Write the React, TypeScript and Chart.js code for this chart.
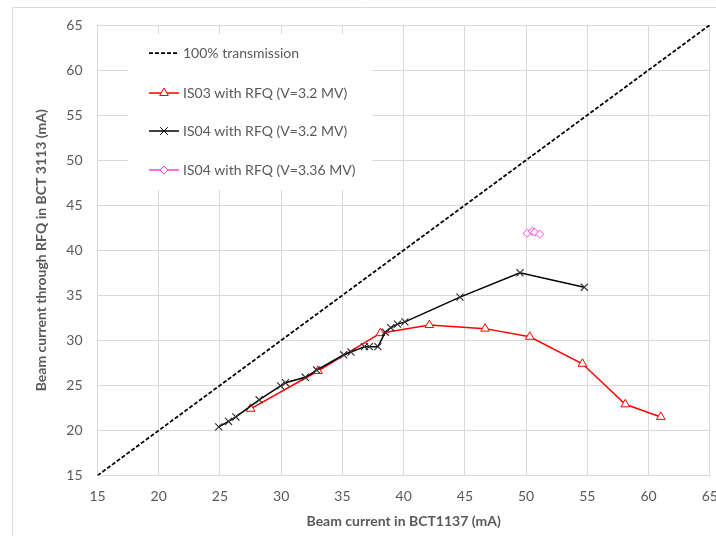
import React, { useEffect, useRef } from "react";
import { Chart, registerables } from "chart.js";

Chart.register(...registerables);

const diagX = [15, 65];
const diagY = [15, 65];
const is03X = [27.5, 33.0, 38.1, 42.1, 46.65, 50.3, 54.6, 58.1, 61.0];
const is03Y = [22.4, 26.6, 30.8, 31.7, 31.3, 30.4, 27.4, 22.9, 21.5];
const is04X = [24.9, 25.7, 26.3, 28.2, 29.95, 30.35, 31.97, 32.9, 35.1, 35.7, 36.8, 37.2, 37.9, 38.5, 38.95, 39.5, 40.1, 44.6, 49.5, 54.75];
const is04Y = [20.4, 21.0, 21.5, 23.4, 24.95, 25.3, 25.9, 26.7, 28.4, 28.7, 29.3, 29.3, 29.3, 30.9, 31.4, 31.8, 32.05, 34.8, 37.5, 35.9];
const is04bX = [50.1, 50.5, 50.7, 51.1];
const is04bY = [41.9, 42.1, 42.0, 41.8];

const legendLabels = [
  "100% transmission",
  "IS03 with RFQ (V=3.2 MV)",
  "IS04 with RFQ (V=3.2 MV)",
  "IS04 with RFQ (V=3.36 MV)",
];
const xTitle = "Beam current in BCT1137 (mA)";
const yTitle = "Beam current through RFQ in BCT 3113 (mA)";
const axisMin = 15;
const axisMax = 65;
const axisStep = 5;

const FONT = "Lato, 'Open Sans', sans-serif";
const TEXT = "#595959";
const GRID = "#d9d9d9";
const RED = "#ff0000";
const BLACK = "#000000";
const MAGENTA = "#ff3fd2";
const DASH = [4, 2];

const zip = (xs: number[], ys: number[]) => xs.map((x, i) => ({ x, y: ys[i] }));

function drawMarker(ctx: CanvasRenderingContext2D, kind: string, x: number, y: number, color: string) {
  ctx.save();
  ctx.strokeStyle = color;
  ctx.lineWidth = 1;
  ctx.fillStyle = "#ffffff";
  ctx.beginPath();
  if (kind === "triangle") {
    const r = 5;
    ctx.moveTo(x, y - r);
    ctx.lineTo(x + r * 0.866, y + r * 0.5);
    ctx.lineTo(x - r * 0.866, y + r * 0.5);
    ctx.closePath();
    ctx.fill();
    ctx.stroke();
  } else if (kind === "crossRot") {
    const r = 3.8;
    ctx.moveTo(x - r, y - r);
    ctx.lineTo(x + r, y + r);
    ctx.moveTo(x + r, y - r);
    ctx.lineTo(x - r, y + r);
    ctx.stroke();
  } else if (kind === "rectRot") {
    const r = 4;
    ctx.moveTo(x, y - r);
    ctx.lineTo(x + r, y);
    ctx.lineTo(x, y + r);
    ctx.lineTo(x - r, y);
    ctx.closePath();
    ctx.fill();
    ctx.stroke();
  }
  ctx.restore();
}

const framePlugin = {
  id: "frame",
  beforeDraw(chart: any) {
    const ctx = chart.ctx;
    ctx.save();
    ctx.fillStyle = "#ffffff";
    ctx.fillRect(0, 0, chart.width, chart.height);
    ctx.strokeStyle = GRID;
    ctx.lineWidth = 1;
    ctx.beginPath();
    ctx.moveTo(12.5, chart.height);
    ctx.lineTo(12.5, 7.5);
    ctx.lineTo(chart.width, 7.5);
    ctx.stroke();
    ctx.restore();
  },
};

const legendPlugin = {
  id: "insideLegend",
  beforeDatasetsDraw(chart: any) {
    const ctx = chart.ctx;
    ctx.save();
    ctx.fillStyle = "#ffffff";
    ctx.fillRect(128, 34, 244, 156);
    ctx.restore();
  },
  afterDatasetsDraw(chart: any) {
    const ctx = chart.ctx;
    const rows = [53, 93, 131, 170];
    const styles = [
      { color: BLACK, dash: DASH, marker: "", width: 1.75 },
      { color: RED, dash: [], marker: "triangle", width: 1.5 },
      { color: BLACK, dash: [], marker: "crossRot", width: 1.5 },
      { color: MAGENTA, dash: [], marker: "rectRot", width: 1.5 },
    ];
    ctx.save();
    rows.forEach((y, i) => {
      const s = styles[i];
      ctx.save();
      ctx.strokeStyle = s.color;
      ctx.lineWidth = s.width;
      ctx.setLineDash(s.dash);
      ctx.beginPath();
      ctx.moveTo(149, y);
      ctx.lineTo(179, y);
      ctx.stroke();
      ctx.restore();
      if (s.marker) drawMarker(ctx, s.marker, 164, y, s.color);
      ctx.fillStyle = TEXT;
      ctx.font = `14px ${FONT}`;
      ctx.textBaseline = "middle";
      ctx.textAlign = "left";
      ctx.fillText(legendLabels[i], 183, y);
    });
    ctx.restore();
  },
};

export default function App() {
  const ref = useRef<HTMLCanvasElement | null>(null);
  useEffect(() => {
    if (!ref.current) return;
    const chart = new Chart(ref.current, {
      type: "scatter",
      data: {
        datasets: [
          {
            label: legendLabels[0],
            data: zip(diagX, diagY),
            showLine: true,
            borderColor: BLACK,
            borderWidth: 1.75,
            borderDash: DASH,
            pointRadius: 0,
            order: 4,
          },
          {
            label: legendLabels[1],
            data: zip(is03X, is03Y),
            showLine: true,
            borderColor: RED,
            borderWidth: 1.5,
            pointStyle: "triangle",
            pointRadius: 5,
            pointBorderColor: RED,
            pointBackgroundColor: "#ffffff",
            pointBorderWidth: 1,
            order: 2,
          },
          {
            label: legendLabels[2],
            data: zip(is04X, is04Y),
            showLine: true,
            borderColor: BLACK,
            borderWidth: 1.5,
            pointStyle: "crossRot",
            pointRadius: 5,
            pointBorderColor: "#333333",
            pointBorderWidth: 1.2,
            order: 1,
          },
          {
            label: legendLabels[3],
            data: zip(is04bX, is04bY),
            showLine: false,
            pointStyle: "rectRot",
            pointRadius: 4,
            pointBorderColor: MAGENTA,
            pointBackgroundColor: "#ffffff",
            pointBorderWidth: 1,
            order: 0,
          },
        ],
      },
      options: {
        animation: false,
        responsive: false,
        maintainAspectRatio: false,
        layout: { padding: { left: 0, top: 25, right: 2, bottom: 0 } },
        plugins: {
          legend: { display: false },
          tooltip: { enabled: false },
        },
        scales: {
          x: {
            type: "linear",
            min: axisMin,
            max: axisMax,
            ticks: {
              stepSize: axisStep,
              color: TEXT,
              font: { family: FONT, size: 14 },
              padding: 13,
            },
            grid: { color: GRID, drawTicks: false },
            border: { color: GRID },
            title: {
              display: true,
              text: xTitle,
              color: TEXT,
              font: { family: FONT, size: 14, weight: "bold" },
              padding: { top: 0, bottom: 6 },
            },
            afterFit(scale: any) {
              scale.height = 60.5;
              scale.paddingLeft = 0;
              scale.paddingRight = 0;
            },
          },
          y: {
            type: "linear",
            min: axisMin,
            max: axisMax,
            ticks: {
              stepSize: axisStep,
              color: TEXT,
              font: { family: FONT, size: 14 },
              padding: 15,
            },
            grid: { color: GRID, drawTicks: false },
            border: { color: GRID },
            title: {
              display: true,
              text: yTitle,
              color: TEXT,
              font: { family: FONT, size: 14, weight: "bold" },
              padding: { top: 33, bottom: 0 },
            },
            afterFit(scale: any) {
              scale.width = 97.5;
              scale.paddingTop = 0;
              scale.paddingBottom = 0;
            },
          },
        },
      },
      plugins: [framePlugin, legendPlugin],
    });
    return () => chart.destroy();
  }, []);
  return (
    <div style={{ position: "fixed", left: 0, top: 0, width: 716, height: 536 }}>
      <canvas ref={ref} width={716} height={536} style={{ width: 716, height: 536 }} />
    </div>
  );
}
